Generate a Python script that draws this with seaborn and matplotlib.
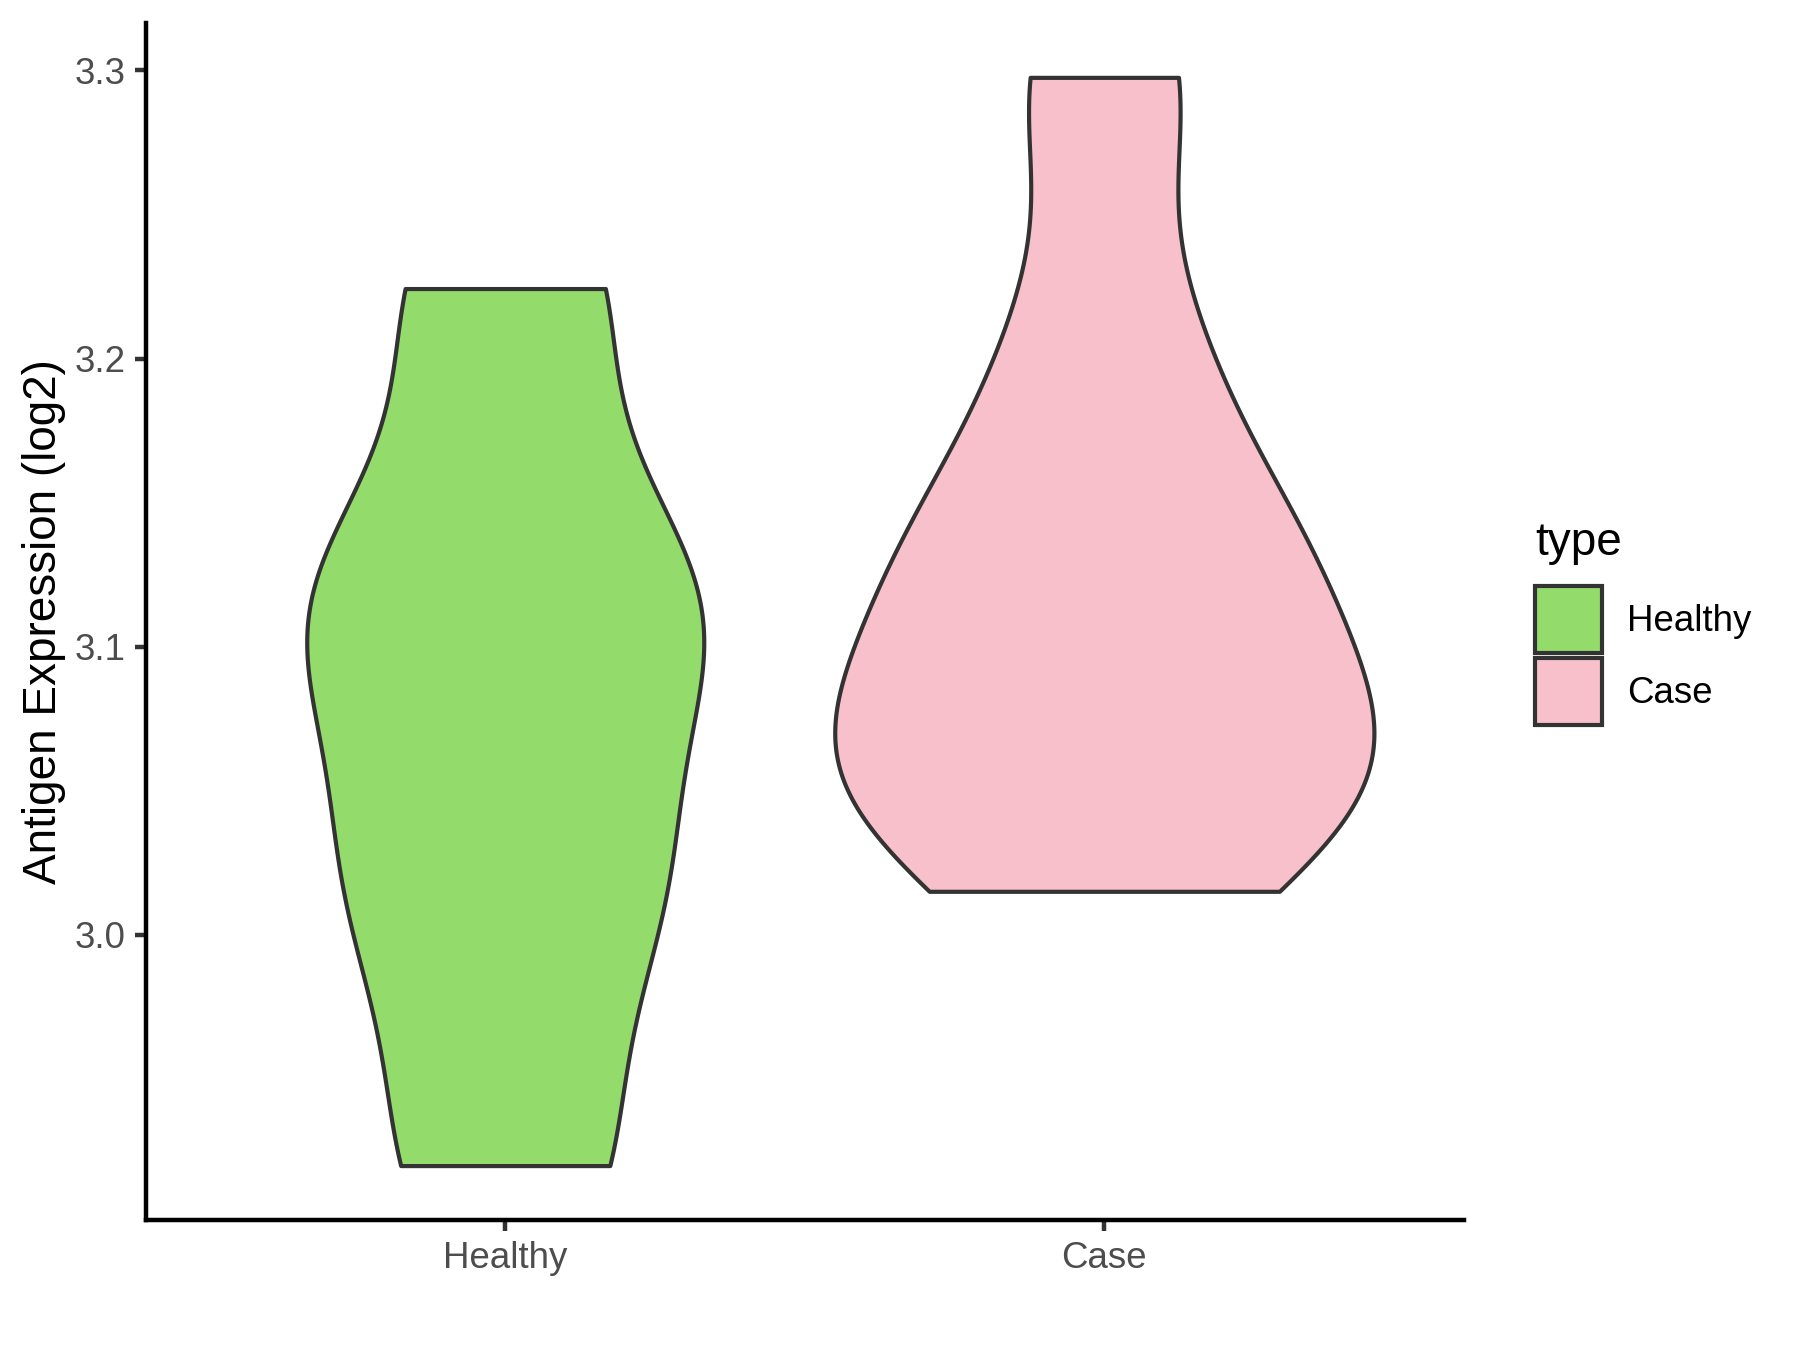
import numpy as np
import pandas as pd
import matplotlib
matplotlib.use("Agg")
import matplotlib.pyplot as plt
import seaborn as sns

# ---- data ----
categories = ["Healthy", "Case"]
healthy_values = [2.9199, 2.9199, 3.0071, 3.0149, 3.0307, 3.1033, 3.1033,
                  3.1232, 3.1232, 3.2243, 3.2243]
case_values = [3.0151, 3.0544, 3.0593, 3.0783, 3.1334, 3.1334, 3.2035, 3.2976]
y_ticks = [3.0, 3.1, 3.2, 3.3]
colors = ["#93DB6B", "#F7C0CB"]

df = pd.DataFrame({
    "type": ["Healthy"] * len(healthy_values) + ["Case"] * len(case_values),
    "value": healthy_values + case_values,
})
df["type"] = pd.Categorical(df["type"], categories=categories)


def nrd0_factor(kde):
    """R's bw.nrd0 expressed as a gaussian_kde factor (bandwidth / sd)."""
    x = np.asarray(kde.dataset).ravel()
    n = len(x)
    sd = x.std(ddof=1)
    q75, q25 = np.percentile(x, [75, 25])
    lo = min(sd, (q75 - q25) / 1.34)
    if lo <= 0:
        lo = sd
    return 0.9 * lo * n ** -0.2 / sd


sns.set_theme(style="ticks")
plt.rcParams["font.family"] = ["Liberation Sans", "DejaVu Sans"]
plt.rcParams["axes.linewidth"] = 1.07

fig = plt.figure(figsize=(6, 4.5), dpi=300)
ax = fig.add_axes([0.081, 0.0963, 0.7322, 0.8867])

sns.violinplot(
    data=df, x="type", y="value", hue="type", palette=colors,
    cut=0, inner=None, density_norm="area", common_norm=True,
    bw_method=nrd0_factor, gridsize=512, width=0.9, saturation=1,
    linewidth=1.0, linecolor="#333333", ax=ax, legend=True,
)

vmin = min(healthy_values + case_values)
vmax = max(healthy_values + case_values)
pad = 0.05 * (vmax - vmin)
ax.set_ylim(vmin - pad, vmax + pad)
ax.set_xlim(-0.6, 1.6)
ax.set_yticks(y_ticks)
ax.set_yticklabels([f"{t:.1f}" for t in y_ticks])
ax.set_xlabel("")
ax.set_ylabel("Antigen Expression (log2)", fontsize=11, color="black", labelpad=2)
sns.despine(ax=ax)
for s in ["left", "bottom"]:
    ax.spines[s].set_color("black")
    ax.spines[s].set_linewidth(1.07)
ax.tick_params(axis="both", length=2.75, width=1.07, color="#333333",
               labelcolor="#4D4D4D", labelsize=8.8, pad=2.2)

sns.move_legend(
    ax, loc="upper left", bbox_to_anchor=(0.853, 0.614),
    bbox_transform=fig.transFigure, frameon=False, title="type",
    fontsize=8.8, title_fontsize=11, handlelength=1.82, handleheight=2.42,
    handletextpad=0.69, labelspacing=0.15, borderpad=0, borderaxespad=0,
)
leg = ax.get_legend()
leg._legend_box.align = "left"
leg._legend_box.sep = 5.0
leg.get_title().set_color("black")
for t in leg.get_texts():
    t.set_color("black")
for h in leg.legend_handles:
    h.set_edgecolor("#333333")
    h.set_linewidth(1.0)

fig.savefig("out.png", dpi=300)
